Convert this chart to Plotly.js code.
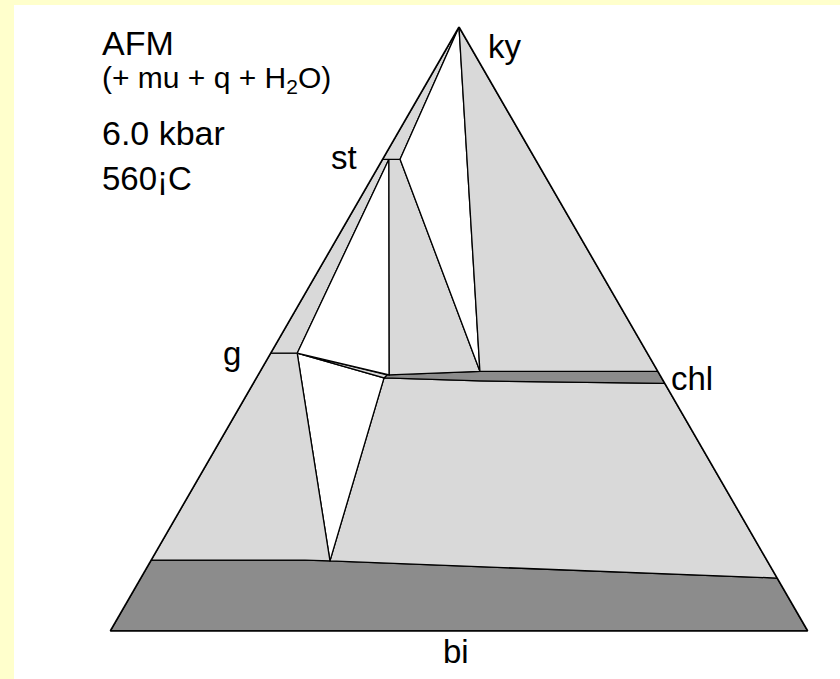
<!DOCTYPE html>
<html>
<head>
<meta charset="utf-8">
<script src="https://cdn.plot.ly/plotly-3.0.1.min.js"></script>
<style>
  html, body { margin: 0; padding: 0; width: 840px; height: 679px; background: #ffffcc; overflow: hidden; }
  #chart { position: absolute; left: 14px; top: 5px; width: 826px; height: 674px; }
</style>
</head>
<body>
<div id="chart"></div>
<script>
// Compositions in ternary coordinates [a (top, ky), b (bottom-left), c (bottom-right)], percent
const fieldKyChl   = [[100, 0, 0], [43.0, 0, 57.0], [43.0, 25.5, 31.5]];
const fieldStKyChl = [[100, 0, 0], [78.1, 19.4, 2.5], [43.0, 25.5, 31.5]];
const fieldStKy    = [[78.1, 21.9, 0], [100, 0, 0], [78.1, 19.4, 2.5]];
const fieldStChl   = [[78.1, 21.0, 0.9], [78.1, 19.4, 2.5], [43.0, 25.5, 31.5], [42.4, 38.8, 18.8]];
const fieldGStChl  = [[46.0, 50.2, 3.8], [78.1, 21.0, 0.9], [42.4, 38.8, 18.8]];
const fieldGSt     = [[46.0, 54.0, 0], [78.1, 21.9, 0], [78.1, 21.0, 0.9], [46.0, 50.2, 3.8]];
const fieldGChl    = [[46.0, 50.2, 3.8], [42.4, 39.1, 18.5], [41.9, 39.8, 18.3]];
const fieldChl     = [[42.4, 39.1, 18.5], [43.0, 25.5, 31.5], [43.0, 0, 57.0], [41.0, 0, 59.0], [41.4, 26.3, 32.3], [41.9, 39.8, 18.3]];
const fieldGBi     = [[46.0, 54.0, 0], [46.0, 50.2, 3.8], [11.6, 62.7, 25.7], [11.75, 66.2, 22.05], [11.75, 88.25, 0]];
const fieldGChlBi  = [[46.0, 50.2, 3.8], [41.9, 39.8, 18.3], [11.6, 62.7, 25.7]];
const fieldChlBi   = [[41.9, 39.8, 18.3], [41.4, 26.3, 32.3], [41.0, 0, 59.0], [8.77, 0, 91.23], [11.6, 62.7, 25.7]];
const fieldBi      = [[11.75, 88.25, 0], [11.75, 66.2, 22.05], [11.6, 62.7, 25.7], [8.77, 0, 91.23], [0, 0, 100], [0, 100, 0]];

const phaseLabels = ['ky', 'st', 'g', 'chl', 'bi'];
const titleLines = ['AFM', '(+ mu + q + H<sub>2</sub>O)', '6.0 kbar', '560¡C'];

const LIGHT = '#d9d9d9', DARK = '#8c8c8c', WHITE = '#ffffff';

const fields = [
  [fieldBi, DARK],
  [fieldChlBi, LIGHT],
  [fieldGChlBi, WHITE],
  [fieldGBi, LIGHT],
  [fieldChl, DARK],
  [fieldGChl, LIGHT],
  [fieldGSt, LIGHT],
  [fieldGStChl, WHITE],
  [fieldStChl, LIGHT],
  [fieldStKy, LIGHT],
  [fieldStKyChl, WHITE],
  [fieldKyChl, LIGHT]
];

const traces = fields.map(([pts, col]) => {
  const closed = pts.concat([pts[0]]);
  return {
    type: 'scatterternary',
    mode: 'lines',
    a: closed.map(p => p[0]),
    b: closed.map(p => p[1]),
    c: closed.map(p => p[2]),
    fill: 'toself',
    fillcolor: col,
    line: { color: '#000000', width: 1.3 },
    hoverinfo: 'skip'
  };
});

// page pixel -> paper coordinates (plot area spans x 110..808, y 27..631 on the page)
const PX = x => (x - 110) / 698;
const PY = y => (631 - y) / 604;
const FONT = 'Arial, "Liberation Sans", sans-serif';

function ann(text, x, y, size, xanchor) {
  return { text: text, xref: 'paper', yref: 'paper', x: PX(x), y: PY(y),
           xanchor: xanchor || 'left', yanchor: 'middle', showarrow: false,
           font: { family: FONT, size: size, color: '#000000' } };
}

const annotations = [
  ann(titleLines[0], 100, 43, 34),
  ann(titleLines[1], 100, 80, 30),
  ann(titleLines[2], 100, 133, 34),
  ann(titleLines[3], 100, 178, 33),
  ann(phaseLabels[0], 486, 46, 33),
  ann(phaseLabels[1], 329, 157, 33),
  ann(phaseLabels[2], 221, 354, 33),
  ann(phaseLabels[3], 669, 378, 33),
  ann(phaseLabels[4], 456, 652, 33, 'center')
];

const axisStyle = { showline: true, linecolor: '#000000', linewidth: 1.6, showgrid: false,
                    showticklabels: false, ticks: '', title: { text: '' } };

const layout = {
  width: 826, height: 674,
  margin: { l: 96, r: 32, t: 22, b: 48 },
  paper_bgcolor: '#ffffff',
  showlegend: false,
  hovermode: false,
  ternary: {
    sum: 100,
    bgcolor: '#ffffff',
    domain: { x: [0, 1], y: [0, 1] },
    aaxis: axisStyle, baxis: axisStyle, caxis: axisStyle
  },
  annotations: annotations
};

Plotly.newPlot('chart', traces, layout, { displayModeBar: false, staticPlot: true });
</script>
</body>
</html>
